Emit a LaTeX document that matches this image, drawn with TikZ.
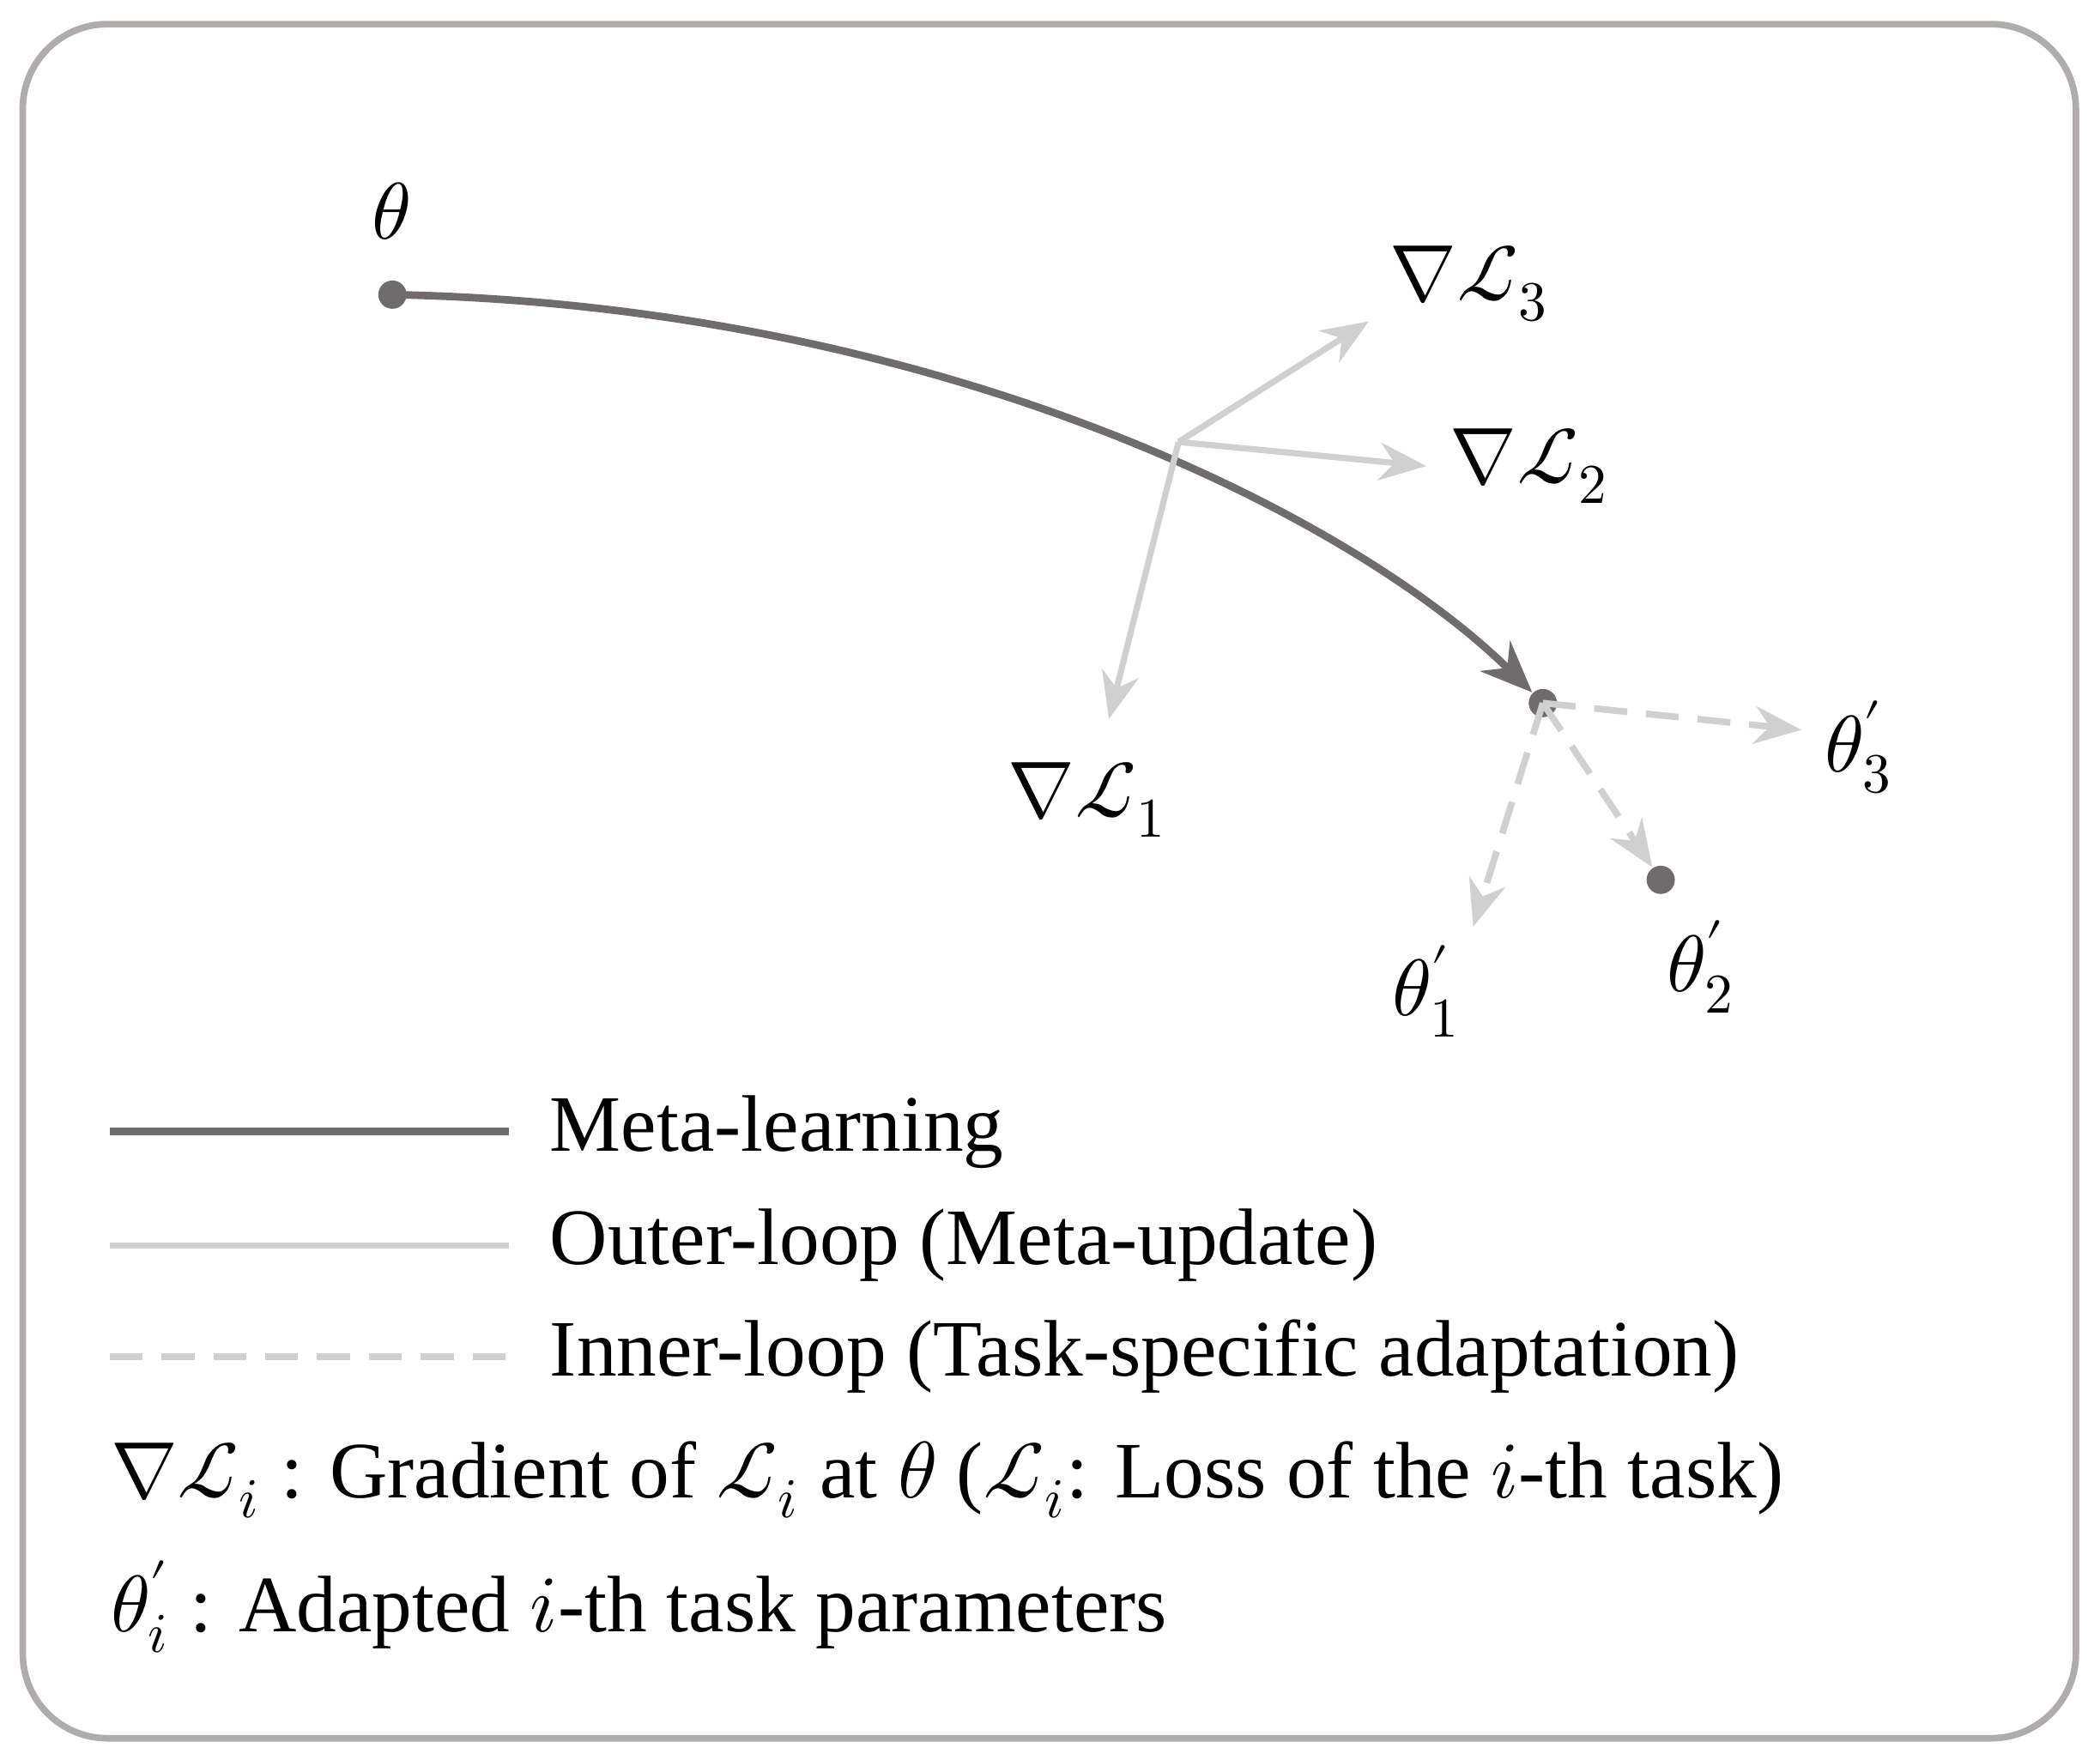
\documentclass[tikz,border=0pt]{standalone}
\usepackage{fontspec}
\usepackage{unicode-math}
\setmainfont{Liberation Serif}
\setmathfont{Latin Modern Math}
\usetikzlibrary{arrows.meta}
\definecolor{dk}{HTML}{706B6C}
\definecolor{lt}{HTML}{D0D0D0}
\definecolor{fr}{HTML}{B0ACAC}
\begin{document}
\begin{tikzpicture}[x=0.01cm,y=-0.01cm,
  meta/.style={draw=dk,line width=1.6pt,-{Stealth[length=11pt,width=9pt]}},
  outer/.style={draw=lt,line width=1.3pt,-{Stealth[length=10pt,width=8pt]}},
  inner/.style={draw=lt,line width=1.4pt,dash pattern=on 7pt off 4pt,-{Stealth[length=10pt,width=8pt]}},
  dot/.style={circle,fill=dk,inner sep=0pt,minimum size=6pt},
  lab/.style={font=\fontsize{17}{20}\selectfont},
  txt/.style={font=\fontsize{17}{20}\selectfont,anchor=west,inner sep=0pt}]
\useasboundingbox (0,0) rectangle (1568,1314);
\draw[fr,line width=1.4pt,rounded corners=18pt] (17,18) rectangle (1550,1298);
\node[dot] (t) at (293,220) {};
\node[lab] (tl) at (292,158) {$\theta$};
\node[dot] (m) at (1152,525) {};
\draw[meta] (t.center) .. controls (700,228) and (1010,385) .. (m.north west);
\coordinate (g) at (880,330);
\node[lab] (l3) at (1097,212) {$\nabla\mathcal{L}_3$};
\node[lab] (l2) at (1142,348) {$\nabla\mathcal{L}_2$};
\node[lab] (l1) at (812,597) {$\nabla\mathcal{L}_1$};
\coordinate (e3) at (1022,240);
\coordinate (e2) at (1065,348);
\coordinate (e1) at (828,537);
\draw[outer] (g) -- (e3);
\draw[outer] (g) -- (e2);
\draw[outer] (g) -- (e1);
\node[dot] (d2) at (1240,657) {};
\coordinate (a3) at (1345,545);
\coordinate (a1) at (1100,692);
\draw[inner] (m.center) -- (a3);
\draw[inner] (m.center) -- (d2);
\draw[inner] (m.center) -- (a1);
\node[lab] (p3) at (1388,558) {$\theta_3'$};
\node[lab] (p2) at (1270,722) {$\theta_2'$};
\node[lab] (p1) at (1065,740) {$\theta_1'$};
\coordinate (s1) at (82,845); \coordinate (f1) at (380,845);
\coordinate (s2) at (82,930); \coordinate (f2) at (380,930);
\coordinate (s3) at (82,1013); \coordinate (f3) at (380,1013);
\draw[dk,line width=1.6pt] (s1) -- (f1);
\draw[lt,line width=1.3pt] (s2) -- (f2);
\draw[lt,line width=1.4pt,dash pattern=on 7pt off 4pt] (s3) -- (f3);
\node[txt] (k1) at (410,845) {Meta-learning};
\node[txt] (k2) at (410,930) {Outer-loop (Meta-update)};
\node[txt] (k3) at (410,1013) {Inner-loop (Task-specific adaptation)};
\node[txt] (n1) at (82,1105) {$\nabla\mathcal{L}_i$ : Gradient of $\mathcal{L}_i$ at $\theta$ ($\mathcal{L}_i$: Loss of the $i$-th task)};
\node[txt] (n2) at (82,1200) {$\theta_i'$ : Adapted $i$-th task parameters};
\end{tikzpicture}
\end{document}
